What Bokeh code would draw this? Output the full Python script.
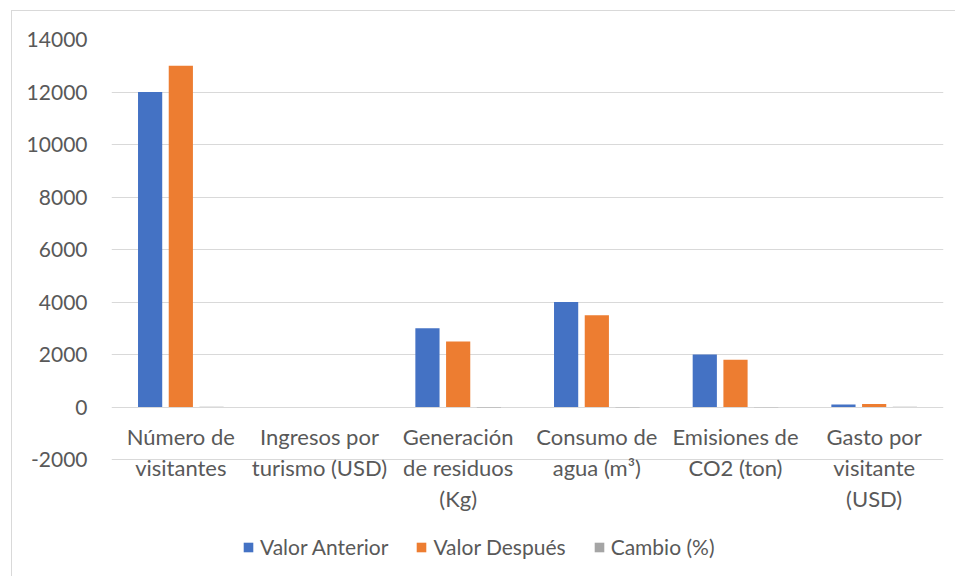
from bokeh.plotting import figure
from bokeh.models import (ColumnDataSource, FactorRange, Range1d, FixedTicker,
                          Legend, LegendItem, LabelSet)
from bokeh.core.properties import value
from bokeh.transform import dodge
from bokeh.embed import file_html
from bokeh.resources import INLINE

categories = ["Número de visitantes", "Ingresos por turismo (USD)", "Generación de residuos (Kg)",
              "Consumo de agua (m³)", "Emisiones de CO2 (ton)", "Gasto por visitante (USD)"]
tick_labels = ["Número de\nvisitantes", "Ingresos por\nturismo (USD)", "Generación\nde residuos\n(Kg)",
               "Consumo de\nagua (m³)", "Emisiones de\nCO2 (ton)", "Gasto por\nvisitante\n(USD)"]
valor_anterior = [12000, 0, 3000, 4000, 2000, 100]
valor_despues = [13000, 0, 2500, 3500, 1800, 110]
cambio = [8.33, 0, -16.67, -12.5, -10.0, 10.0]
series_names = ["Valor Anterior", "Valor Después", "Cambio (%)"]
colors = ["#4472C4", "#ED7D31", "#A5A5A5"]
y_ticks = [-2000, 0, 2000, 4000, 6000, 8000, 10000, 12000, 14000]

FONT = "Lato"
TXT = "#595959"
GRID = "#D9D9D9"

W, H = 944, 566
TOP, LEFT, RIGHT = 28, 99, 13
frame_h = H - TOP
y_max = y_ticks[-1]
px_per_unit = 420 / (y_ticks[-1] - y_ticks[0])
y_min = y_max - frame_h / px_per_unit

src = ColumnDataSource(dict(cat=categories, a=valor_anterior, d=valor_despues, c=cambio))

# one row per label line so that each line is centred under its category
lab_cat, lab_txt, lab_off = [], [], []
for cat, lab in zip(categories, tick_labels):
    for i, line in enumerate(lab.split("\n")):
        lab_cat.append(cat)
        lab_txt.append(line)
        lab_off.append(-29 - 31 * i)
lab_src = ColumnDataSource(dict(cat=lab_cat, txt=lab_txt, off=lab_off, base=[0] * len(lab_cat)))

p = figure(x_range=FactorRange(*categories, range_padding=0), y_range=Range1d(y_min, y_max),
           width=W, height=H, output_backend="svg", toolbar_location=None,
           min_border_left=LEFT, min_border_right=RIGHT, min_border_top=TOP, min_border_bottom=0)
p.styles = {"margin-left": "11px", "margin-top": "10px",
            "border-left": "1px solid #D9D9D9", "border-top": "1px solid #D9D9D9"}
p.outline_line_color = None
p.background_fill_color = "white"
p.border_fill_color = "white"

bw = 0.1745
off = 0.2215
cols = ["a", "d", "c"]
renderers = []
for i, (col, colr) in enumerate(zip(cols, colors)):
    r = p.vbar(x=dodge("cat", (i - 1) * off, range=p.x_range), top=col, bottom=0, width=bw,
               source=src, fill_color=colr, line_color=None)
    renderers.append(r)

p.yaxis.ticker = FixedTicker(ticks=y_ticks)
p.yaxis.axis_line_color = None
p.yaxis.major_tick_line_color = None
p.yaxis.minor_tick_line_color = None
p.yaxis.major_label_standoff = 18
p.yaxis.major_label_text_font = FONT
p.yaxis.major_label_text_font_size = "21px"
p.yaxis.major_label_text_color = TXT
p.yaxis.major_label_overrides = {t: str(t) for t in y_ticks}

p.ygrid.grid_line_color = GRID
p.ygrid.grid_line_width = 1
p.xgrid.grid_line_color = None
p.xaxis.visible = False

labels = LabelSet(x="cat", y="base", text="txt", source=lab_src, y_offset="off",
                  text_align="center", text_baseline="middle", text_font=value(FONT),
                  text_font_size=value("22px"), text_color=TXT)
p.add_layout(labels)

legend = Legend(items=[LegendItem(label=n, renderers=[r]) for n, r in zip(series_names, renderers)],
                orientation="horizontal", location=(131, 18),
                label_text_font=FONT, label_text_font_size="21px", label_text_color=TXT,
                glyph_width=12, glyph_height=12, spacing=27, label_standoff=6,
                border_line_color=None, background_fill_alpha=0, padding=0, margin=0)
p.add_layout(legend)

open("out.html", "w").write(file_html(p, INLINE))
